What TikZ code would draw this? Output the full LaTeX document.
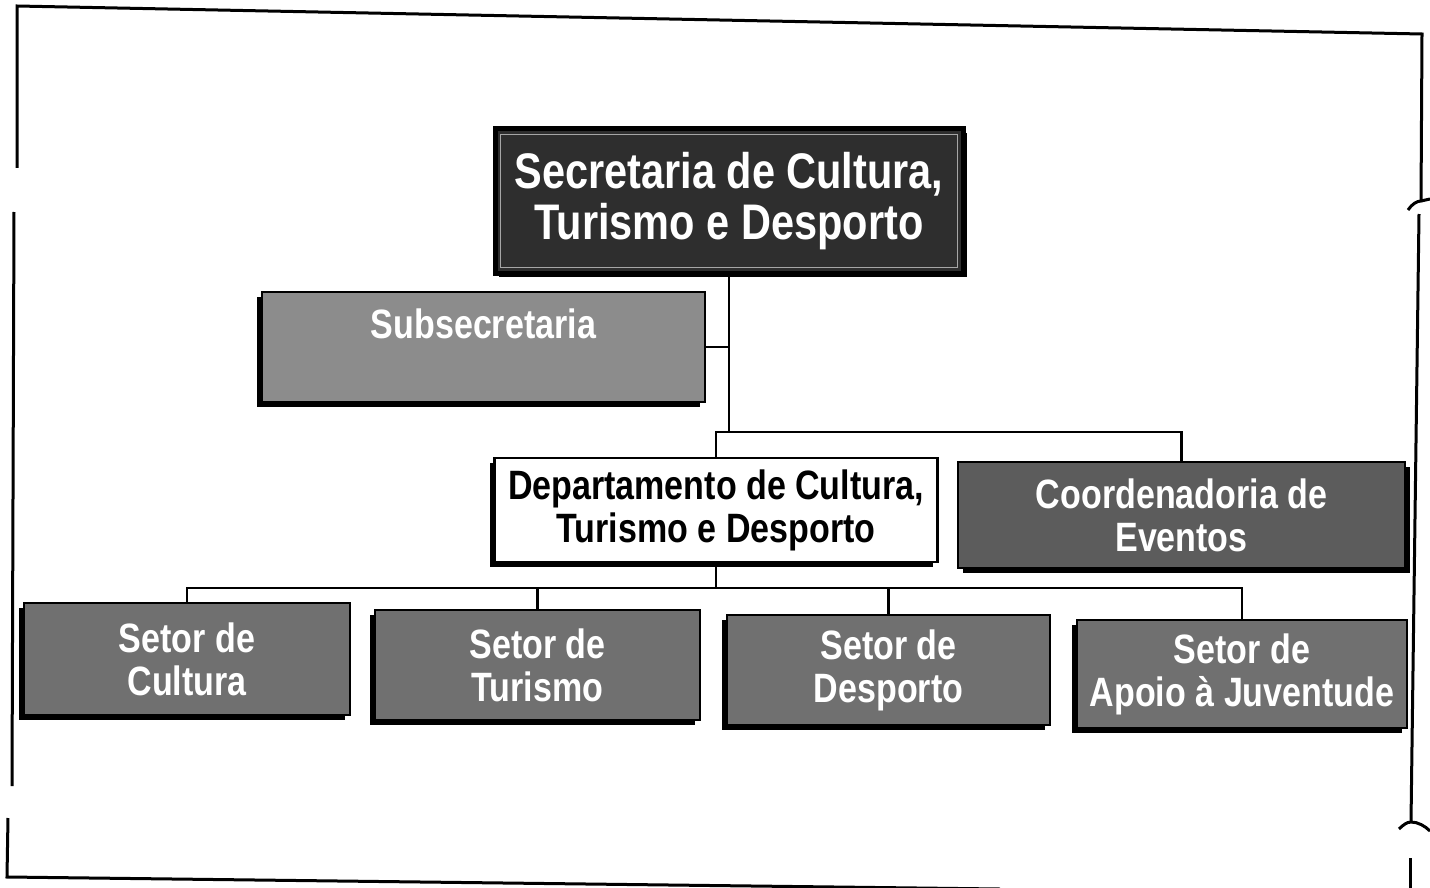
\documentclass[tikz,border=0pt]{standalone}
\usepackage{fontspec}
\setmainfont{Liberation Sans}
\newfontfamily\orgfont{Liberation Sans}[FakeStretch=0.83]
\usetikzlibrary{shadows}

\begin{document}
\begin{tikzpicture}[x=1pt, y=-1pt, line join=miter,
  orgbox/.style={draw=black, line width=2.4pt, inner sep=0pt, align=center, text=white,
    font=\orgfont\bfseries\fontsize{41}{43}\selectfont},
  shadowL/.style={general shadow={fill=black, shadow xshift=-5pt, shadow yshift=-5pt}},
  shadowR/.style={general shadow={fill=black, shadow xshift=5pt, shadow yshift=-5pt}},
  setorbox/.style={orgbox, shadowL, fill=black!56},
  wire/.style={line width=2.2pt},
  frame/.style={line width=3pt}]

  %% ════ 外框（扫描件略有倾斜）════
  \draw[frame] (17,168) -- (17,6) -- (1422,34) -- (1421,202);
  \draw[frame] (1408,210) .. controls (1412,204) and (1417,201) .. (1421,201) -- (1430,199);
  \draw[frame] (1419,214) -- (1411,822);
  \draw[frame] (1399,829) .. controls (1403,825) and (1407,822) .. (1411,822) .. controls (1418,822) and (1425,826) .. (1430,831);
  \draw[frame] (1410,858) -- (1410,888);
  \draw[frame] (14,212) -- (12,786);
  \draw[frame] (8,818) -- (7,877) -- (1000,889);

  %% ════ 方框 ════
  \node[orgbox, fill=black!82, line width=5pt, minimum width=468pt, minimum height=144pt,
        font=\orgfont\bfseries\fontsize{50}{51}\selectfont,
        general shadow={fill=black, shadow xshift=4pt, shadow yshift=-4pt}]
        (sec) at (729,201) {Secretaria de Cultura,\\Turismo e Desporto};
  \draw[black!35, line width=0.8pt] ([shift={(8,8)}]sec.north west) rectangle ([shift={(-8,-8)}]sec.south east);

  \node[orgbox, shadowL, fill=black!45, minimum width=443pt, text height=46pt, text depth=64pt]
        (sub) at (483.5,347) {Subsecretaria};

  \node[orgbox, shadowL, fill=white, text=black, minimum width=443pt, minimum height=104pt]
        (dep) at (716,510) {Departamento de Cultura,\\Turismo e Desporto};
  \node[orgbox, shadowR, fill=black!64, minimum width=447pt, minimum height=106pt]
        (coord) at (1181.5,515) {Coordenadoria de\\Eventos};

  \node[setorbox, minimum width=326pt, minimum height=112pt] (s1) at (187,659) {Setor de\\Cultura};
  \node[setorbox, minimum width=325pt, minimum height=110pt] (s2) at (537.5,665) {Setor de\\Turismo};
  \node[setorbox, minimum width=323pt, minimum height=110pt] (s3) at (888.5,670) {Setor de\\Desporto};
  \node[setorbox, minimum width=330pt, minimum height=108pt] (s4) at (1242,674) {Setor de\\Apoio à Juventude};

  %% ════ 连线 ════
  \coordinate (hubA) at (729,432);
  \coordinate (hubB) at (716,588);
  \draw[wire] (sec.south) -- (hubA) -| (coord.north);
  \draw[wire] (hubA) -| (dep.north);
  \draw[wire] (sub.east) -- (sub.east -| sec.south);
  \draw[wire] (dep.south) -- (hubB);
  \draw[wire] (s1.north) |- (hubB) -| (s4.north);
  \draw[wire] (s2.north) -- (s2.north |- hubB);
  \draw[wire] (s3.north) -- (s3.north |- hubB);

  % 钉死画布
  \pgfresetboundingbox
  \path[use as bounding box] (0,0) rectangle (1430,888);
\end{tikzpicture}
\end{document}
